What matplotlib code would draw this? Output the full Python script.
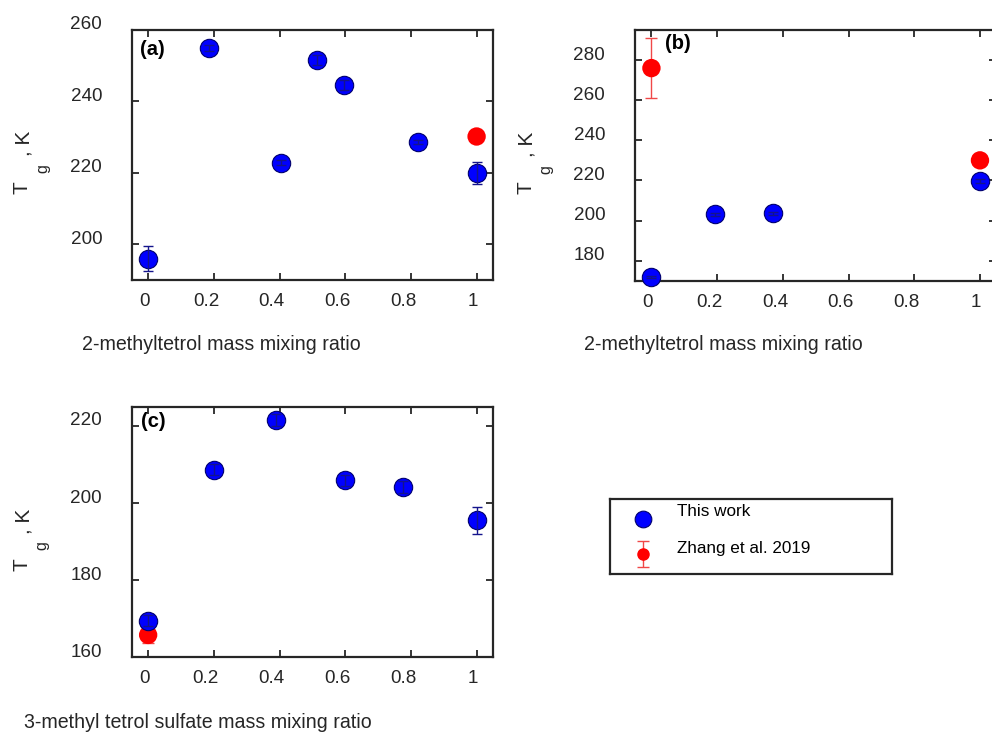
import matplotlib
matplotlib.use("Agg")
import matplotlib.pyplot as plt
import matplotlib.transforms as mtransforms

plt.rcParams['font.family'] = ['Liberation Sans', 'DejaVu Sans']

# ---- data ----
xticks = [0, 0.2, 0.4, 0.6, 0.8, 1.0]
xticklabels = ['0', '0.2', '0.4', '0.6', '0.8', '1']

# (a) 2-methyltetrol mixtures
a_x = [0.0, 0.185, 0.405, 0.515, 0.595, 0.82, 1.0]
a_y = [195.9, 254.9, 222.8, 251.5, 244.5, 228.6, 219.9]
a_err = [3.5, 0.8, 0.6, 1.5, 1.5, 0.5, 3.0]
a_ref_x = [1.0]
a_ref_y = [230.1]
a_ref_err = [1.0]
a_yticks = [200, 220, 240, 260]

# (b) 2-methyltetrol mixtures
b_x = [0.0, 0.195, 0.37, 1.0]
b_y = [171.7, 203.2, 203.7, 219.8]
b_err = [0.6, 0.8, 0.8, 1.0]
b_ref_x = [0.0, 1.0]
b_ref_y = [276.0, 230.0]
b_ref_err = [15.0, 1.0]
b_yticks = [180, 200, 220, 240, 260, 280]

# (c) 3-methyl tetrol sulfate mixtures
c_x = [0.0, 0.2, 0.39, 0.6, 0.775, 1.0]
c_y = [169.5, 208.7, 221.6, 205.9, 204.1, 195.6]
c_err = [1.5, 1.5, 1.5, 1.5, 1.5, 3.5]
c_ref_x = [0.0]
c_ref_y = [165.8]
c_ref_err = [2.0]
c_yticks = [160, 180, 200, 220]

series_labels = ['This work', 'Zhang et al. 2019']

# ---- style ----
W, H = 992, 734
BLUE = '#0000FF'
BLUE_EDGE = '#00006E'
BLUE_ERR = '#14148C'
RED = '#FF0000'
RED_ERR = '#F04848'
TXT = '#262626'
SPINE = '#262626'
TICK_FS = 13.6
XLAB_FS = 14.1

fig = plt.figure(figsize=(W / 100, H / 100), dpi=100)


def px_axes(x0, y0, x1, y1):
    """Create axes from pixel box (top-left origin)."""
    return fig.add_axes([x0 / W, 1 - y1 / H, (x1 - x0) / W, (y1 - y0) / H])


def fig_text(x, y, s, **kw):
    fig.text(x / W, 1 - y / H, s, **kw)


def draw_panel(ax, x, y, err, rx, ry, rerr, ylim, yticks, tag, tagpos):
    # literature series: markers over their own bars, beneath measured points
    ax.errorbar(rx, ry, yerr=rerr, fmt='none', ecolor=RED_ERR, elinewidth=1.0,
                capsize=4.0, capthick=1.0, zorder=2, clip_on=False)
    ax.scatter(rx, ry, s=175, color=RED, edgecolors='none', zorder=2.5,
               clip_on=False)
    # measured series: bars drawn over the markers
    ax.scatter(x, y, s=175, color=BLUE, edgecolors=BLUE_EDGE, linewidths=0.8,
               zorder=3, clip_on=False)
    ax.errorbar(x, y, yerr=err, fmt='none', ecolor=BLUE_ERR, elinewidth=1.0,
                capsize=3.8, capthick=1.0, zorder=4, clip_on=False)
    ax.set_xlim(-0.05, 1.05)
    ax.set_ylim(*ylim)
    ax.set_xticks(xticks)
    ax.set_xticklabels(xticklabels)
    ax.set_yticks(yticks)
    ax.set_yticklabels([str(v) for v in yticks])
    for sp in ax.spines.values():
        sp.set_linewidth(1.6)
        sp.set_color(SPINE)
    ax.tick_params(direction='in', length=5, width=1.3, color=SPINE,
                   top=True, right=True, labelsize=TICK_FS, labelcolor=TXT)
    ax.tick_params(axis='x', pad=9.5)
    ax.tick_params(axis='y', pad=21.5)
    for t in ax.xaxis.get_major_ticks():
        n = len(t.label1.get_text())
        off = mtransforms.ScaledTranslation((-4 - 2 * (n - 1)) / 100, 0,
                                            fig.dpi_scale_trans)
        t.label1.set_transform(t.label1.get_transform() + off)
    for t in ax.yaxis.get_major_ticks():
        off = mtransforms.ScaledTranslation(0, 7 / 100, fig.dpi_scale_trans)
        t.label1.set_transform(t.label1.get_transform() + off)
    ax.text(tagpos[0], tagpos[1], tag, transform=ax.transAxes, fontsize=14.5,
            fontweight='bold', color='black', ha='left', va='center')


def tg_label(x0, ymid):
    """Rotated 'T_g, K' label placed left of an axes (pixel coords)."""
    kw = dict(rotation=90, rotation_mode='anchor', ha='center',
              va='baseline', color=TXT)
    fig_text(x0 - 104, ymid + 32.5, 'T', fontsize=15, **kw)
    fig_text(x0 - 85, ymid + 14.0, 'g', fontsize=11.5, **kw)
    fig_text(x0 - 102.5, ymid - 11, ', K', fontsize=15, **kw)


# panel (a)
ax_a = px_axes(132, 29.5, 493, 280)
draw_panel(ax_a, a_x, a_y, a_err, a_ref_x, a_ref_y, a_ref_err,
           (190, 260), a_yticks, '(a)', (0.022, 0.92))
tg_label(132, (29.5 + 280) / 2)
fig_text(82, 345, '2-methyltetrol mass mixing ratio', fontsize=XLAB_FS,
         color=TXT, ha='left', va='center')

# panel (b)
ax_b = px_axes(635, 30, 996.4, 280.7)
draw_panel(ax_b, b_x, b_y, b_err, b_ref_x, b_ref_y, b_ref_err,
           (170, 295), b_yticks, '(b)', (0.083, 0.948))
tg_label(635, (30 + 280.7) / 2)
fig_text(584, 345, '2-methyltetrol mass mixing ratio', fontsize=XLAB_FS,
         color=TXT, ha='left', va='center')

# panel (c)
ax_c = px_axes(131.7, 406.7, 493.3, 657.3)
draw_panel(ax_c, c_x, c_y, c_err, c_ref_x, c_ref_y, c_ref_err,
           (160, 225), c_yticks, '(c)', (0.025, 0.94))
tg_label(131.7, (406.7 + 657.3) / 2)
fig_text(24, 722, '3-methyl tetrol sulfate mass mixing ratio',
         fontsize=XLAB_FS, color=TXT, ha='left', va='center')

# key box
lax = px_axes(610, 499, 892, 574)
lax.set_xlim(0, 1)
lax.set_ylim(0, 1)
lax.set_xticks([])
lax.set_yticks([])
for sp in lax.spines.values():
    sp.set_linewidth(1.6)
    sp.set_color(SPINE)
lax.plot([0.118], [0.74], 'o', ms=12, color=BLUE, mec=BLUE_EDGE, mew=0.8)
lax.errorbar([0.118], [0.265], yerr=[0.17], fmt='o', ms=8, color=RED,
             mec=RED, ecolor=RED_ERR, elinewidth=1.0, capsize=4, capthick=1.0)
lax.text(0.236, 0.83, series_labels[0], fontsize=12.3, color='black',
         ha='left', va='center')
lax.text(0.236, 0.345, series_labels[1], fontsize=12.3, color='black',
         ha='left', va='center')

fig.savefig('out.png', dpi=100)
